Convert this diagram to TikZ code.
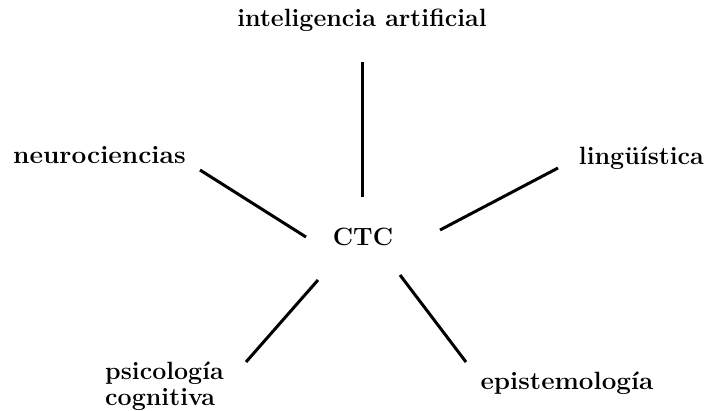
\documentclass[tikz,border=0pt]{standalone}
\begin{document}
\begin{tikzpicture}[x=1pt,y=-1pt,
  lbl/.style={font=\fontsize{25}{26}\selectfont\bfseries, inner sep=0pt},
  conn/.style={line width=3pt, black}]
\useasboundingbox (0,0) rectangle (708,410);
\node[lbl] (ia) at (362,20) {inteligencia artificial};
\node[lbl, anchor=west] (neu) at (13,155) {\scalebox{1.05}[1]{neurociencias}};
\node[lbl, anchor=east] (lin) at (704,158) {lingüística};
\node[lbl] (ctc) at (363,237) {CTC};
\node[lbl, align=left, anchor=north west] (psi) at (105,362) {psicología\\cognitiva};
\node[lbl] (epi) at (567,383) {\scalebox{1.04}[1]{epistemología}};
\coordinate (a1) at (362,62);  \coordinate (a2) at (362,197);
\coordinate (b1) at (200,170); \coordinate (b2) at (306,237);
\coordinate (c1) at (558,168); \coordinate (c2) at (440,230);
\coordinate (d1) at (318,280); \coordinate (d2) at (246,362);
\coordinate (e1) at (400,275); \coordinate (e2) at (466,362);
\draw[conn] (a1) -- (a2);
\draw[conn] (b1) -- (b2);
\draw[conn] (c1) -- (c2);
\draw[conn] (d1) -- (d2);
\draw[conn] (e1) -- (e2);
\end{tikzpicture}
\end{document}
